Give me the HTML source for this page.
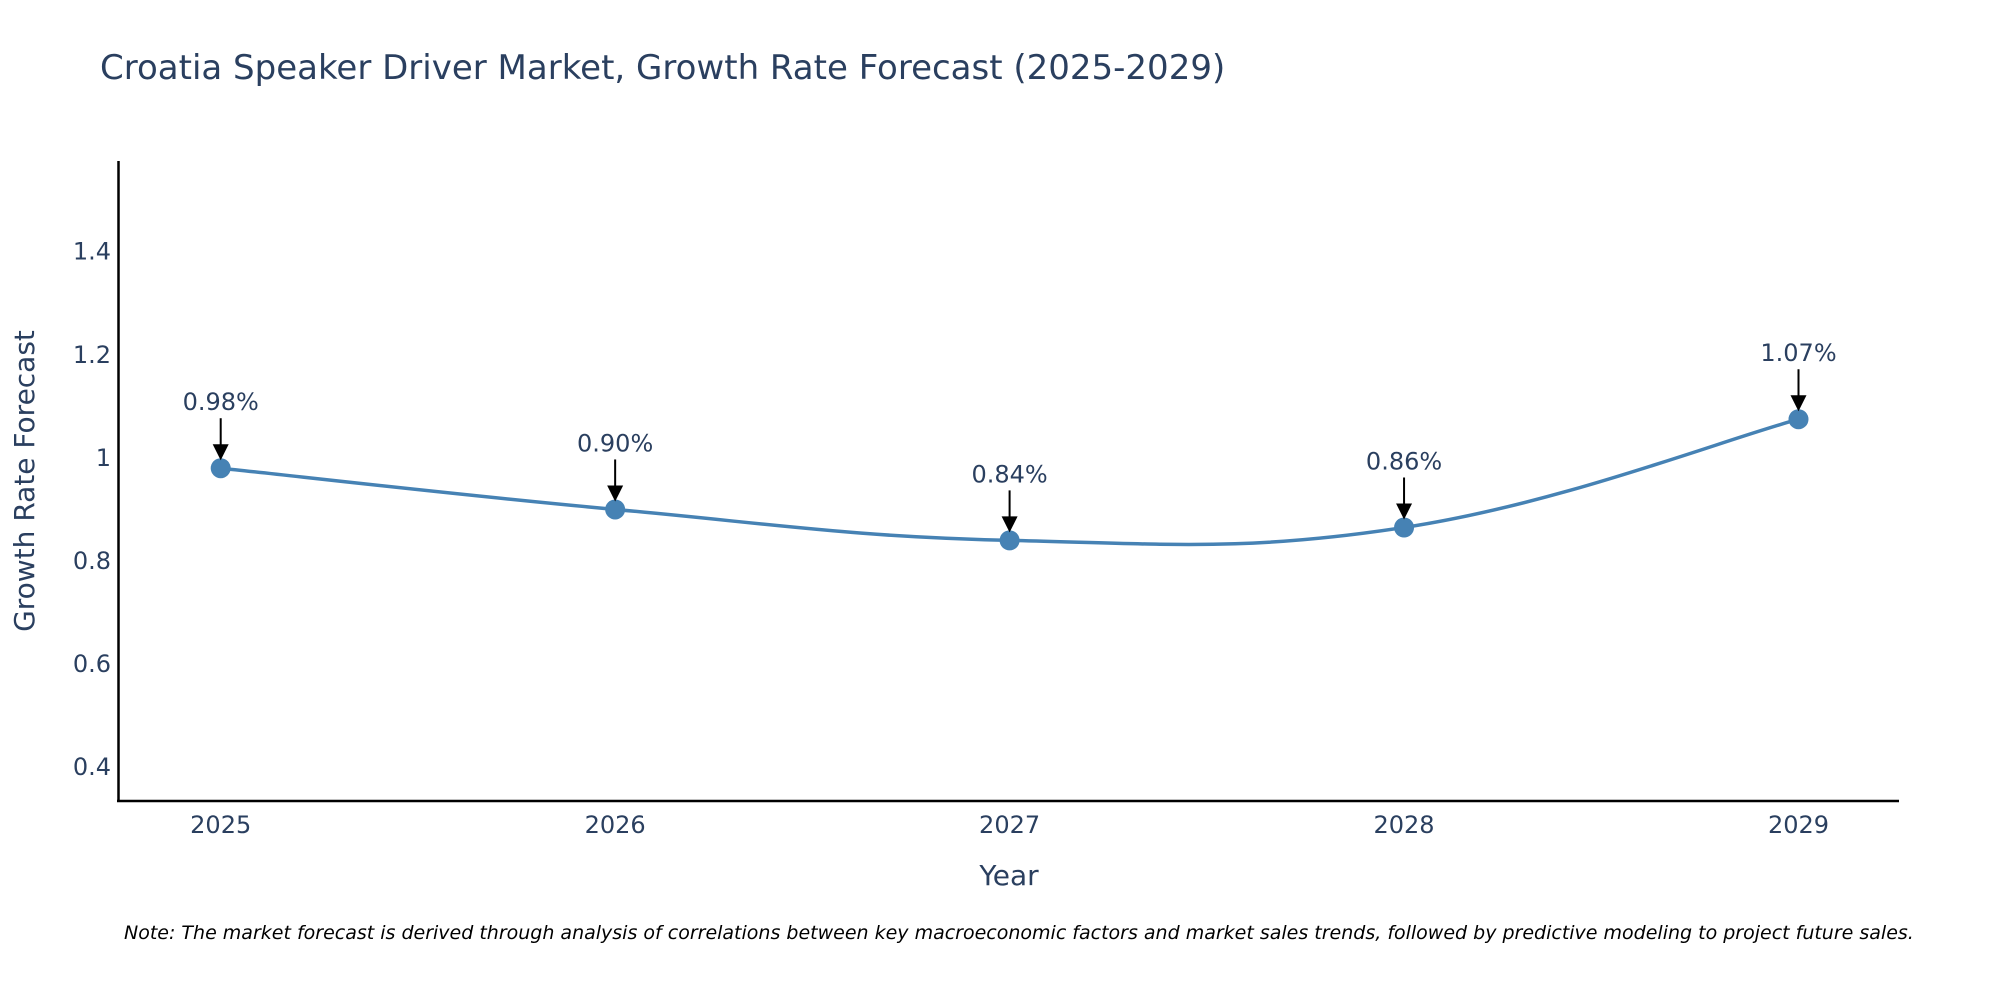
<!DOCTYPE html>
<html><head><meta charset="utf-8"><style>
body{margin:0;background:#fff;}
svg{display:block;font-family:"DejaVu Sans","Liberation Sans",sans-serif;}
</style></head><body>
<svg id="chart" width="2000" height="1000">
<text x="100" y="79" font-size="34" fill="#2a3f5f">Croatia Speaker Driver Market, Growth Rate Forecast (2025-2029)</text>
<g id="yticks"></g><g id="xticks"></g>
<line x1="118.5" y1="161" x2="118.5" y2="802" stroke="#000" stroke-width="2.5"/>
<line x1="117" y1="801" x2="1899" y2="801" stroke="#000" stroke-width="2.5"/>
<path id="line" fill="none" stroke="#4682b4" stroke-width="3.5"/>
<g id="marks"></g>
<text x="34" y="481" font-size="28" fill="#2a3f5f" text-anchor="middle" transform="rotate(-90 34 481)">Growth Rate Forecast</text>
<text x="1009" y="885" font-size="28" fill="#2a3f5f" text-anchor="middle">Year</text>
<text x="124" y="939" font-size="19" font-style="italic" fill="#000">Note: The market forecast is derived through analysis of correlations between key macroeconomic factors and market sales trends, followed by predictive modeling to project future sales.</text>
</svg>
<script>
const years=[2025,2026,2027,2028,2029];
const values=[0.98,0.90,0.84,0.865,1.075];
const labels=["0.98%","0.90%","0.84%","0.86%","1.07%"];
const yTicks=[0.4,0.6,0.8,1,1.2,1.4];
const yTickLabels=["0.4","0.6","0.8","1","1.2","1.4"];
const NS="http://www.w3.org/2000/svg";
const xs=v=>220.7+(v-2025)*394.45;
const ys=v=>457.9-(v-1)*515.5;
function mk(t,a,p){const e=document.createElementNS(NS,t);for(const k in a)e.setAttribute(k,a[k]);p.appendChild(e);return e;}
const yt=document.getElementById('yticks');
yTicks.forEach((t,i)=>{const e=mk('text',{x:111,y:ys(t)+8,'font-size':24,fill:'#2a3f5f','text-anchor':'end'},yt);e.textContent=yTickLabels[i];

});
const xt=document.getElementById('xticks');
years.forEach(y=>{const e=mk('text',{x:xs(y),y:833,'font-size':24,fill:'#2a3f5f','text-anchor':'middle'},xt);e.textContent=y;

});
const P=years.map((y,i)=>[xs(y),ys(values[i])]);
let d=`M${P[0][0]},${P[0][1]}`;
for(let i=0;i<P.length-1;i++){const p0=P[Math.max(0,i-1)],p1=P[i],p2=P[i+1],p3=P[Math.min(P.length-1,i+2)];const s=0.2;
d+=` C${p1[0]+(p2[0]-p0[0])*s},${p1[1]+(p2[1]-p0[1])*s} ${p2[0]-(p3[0]-p1[0])*s},${p2[1]-(p3[1]-p1[1])*s} ${p2[0]},${p2[1]}`;}
document.getElementById('line').setAttribute('d',d);
const g=document.getElementById('marks');
P.forEach((p,i)=>{const c=mk('circle',{cx:p[0],cy:p[1],r:10,fill:'#4682b4'},g);


mk('line',{x1:p[0],y1:p[1]-50,x2:p[0],y2:p[1]-22,stroke:'#000','stroke-width':2},g);
const a=mk('polygon',{points:`${p[0]-8},${p[1]-24} ${p[0]+8},${p[1]-24} ${p[0]},${p[1]-8}`,fill:'#000'},g);


const t=mk('text',{x:p[0],y:p[1]-58,'font-size':24,fill:'#2a3f5f','text-anchor':'middle'},g);t.textContent=labels[i];

});
</script>
</body></html>
